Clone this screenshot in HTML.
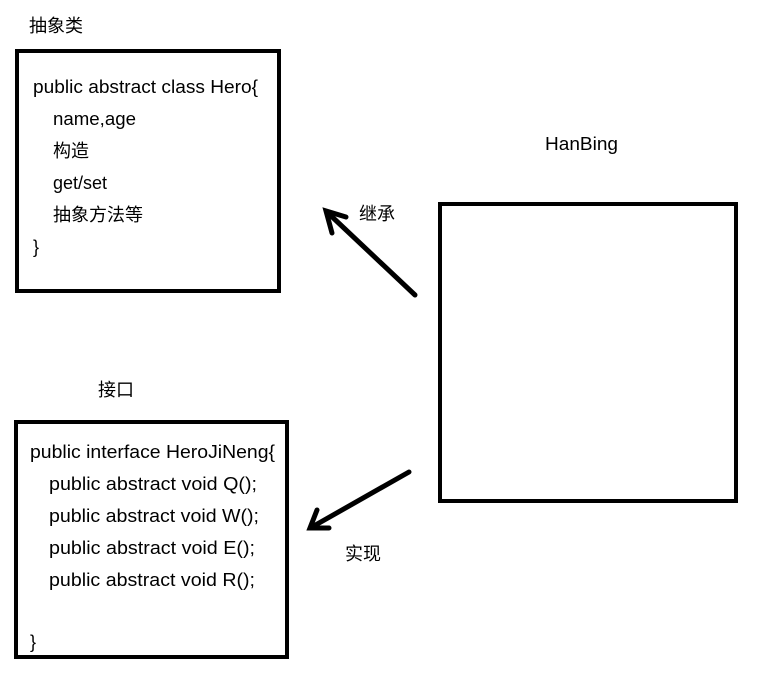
<!DOCTYPE html>
<html><head><meta charset="utf-8"><style>
html,body{margin:0;padding:0;background:#fff;}
svg{display:block;}
text{font-family:"Liberation Sans","Noto Sans CJK SC",sans-serif;font-size:18px;fill:#000;}
</style></head><body>
<svg width="765" height="680" viewBox="0 0 765 680">
<text x="29" y="32">抽象类</text>
<rect x="17" y="51" width="262" height="240" fill="none" stroke="#000" stroke-width="4"/>
<text x="33" y="93" textLength="225" lengthAdjust="spacingAndGlyphs">public abstract class Hero{</text>
<text x="53" y="125" textLength="83" lengthAdjust="spacingAndGlyphs">name,age</text>
<text x="53" y="157">构造</text>
<text x="53" y="189">get/set</text>
<text x="53" y="221">抽象方法等</text>
<text x="33" y="253">}</text>

<text x="545" y="150" textLength="73" lengthAdjust="spacingAndGlyphs">HanBing</text>
<rect x="440" y="204" width="296" height="297" fill="none" stroke="#000" stroke-width="4"/>

<text x="359" y="220">继承</text>
<g stroke="#000" stroke-width="5" stroke-linecap="round" fill="none">
<line x1="415" y1="295" x2="328" y2="213"/>
<polyline points="332,233 326,211 346,217"/>
<line x1="409" y1="472" x2="312" y2="527"/>
<polyline points="317,510 310,528 329,528"/>
</g>
<text x="345" y="560">实现</text>

<text x="98" y="396">接口</text>
<rect x="16" y="422" width="271" height="235" fill="none" stroke="#000" stroke-width="4"/>
<text x="30" y="458" textLength="245" lengthAdjust="spacingAndGlyphs">public interface HeroJiNeng{</text>
<text x="49" y="490" textLength="208" lengthAdjust="spacingAndGlyphs">public abstract void Q();</text>
<text x="49" y="522" textLength="210" lengthAdjust="spacingAndGlyphs">public abstract void W();</text>
<text x="49" y="554" textLength="206" lengthAdjust="spacingAndGlyphs">public abstract void E();</text>
<text x="49" y="586" textLength="206" lengthAdjust="spacingAndGlyphs">public abstract void R();</text>
<text x="30" y="648">}</text>
</svg>
</body></html>
